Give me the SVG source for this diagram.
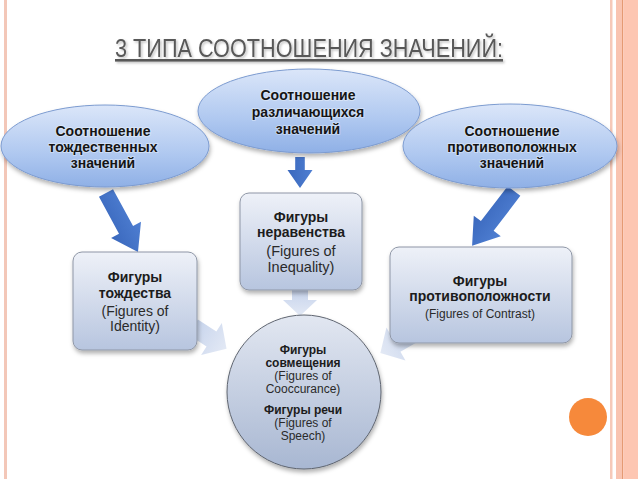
<svg xmlns="http://www.w3.org/2000/svg" width="638" height="479" viewBox="0 0 638 479">
<defs>
<linearGradient id="gEll" x1="0" y1="0" x2="0" y2="1">
<stop offset="0" stop-color="#dbe6f9"/>
<stop offset="0.6" stop-color="#afc8f0"/>
<stop offset="1" stop-color="#8fb0e6"/>
</linearGradient>
<linearGradient id="gBox" x1="0" y1="0" x2="0" y2="1">
<stop offset="0" stop-color="#eef1f8"/>
<stop offset="1" stop-color="#b7c5df"/>
</linearGradient>
<linearGradient id="gCirc" x1="0" y1="0" x2="0" y2="1">
<stop offset="0" stop-color="#e2e7f1"/>
<stop offset="1" stop-color="#a8b7d2"/>
</linearGradient>
<linearGradient id="gBlue" x1="0" y1="0" x2="0" y2="1">
<stop offset="0" stop-color="#4f7fd2"/>
<stop offset="1" stop-color="#3a68bd"/>
</linearGradient>
<linearGradient id="gPale" x1="0" y1="0" x2="1" y2="0">
<stop offset="0" stop-color="#c7d4ec"/>
<stop offset="1" stop-color="#e3e9f5"/>
</linearGradient>
<filter id="sh" x="-20%" y="-20%" width="140%" height="150%">
<feDropShadow dx="1" dy="3" stdDeviation="2" flood-color="#000" flood-opacity="0.3"/>
</filter>
<filter id="titsh" x="-5%" y="-20%" width="110%" height="150%">
<feDropShadow dx="1.5" dy="1.5" stdDeviation="0.8" flood-color="#000" flood-opacity="0.25"/>
</filter>
</defs>
<style>
.ell{fill:url(#gEll);stroke:#7c9bd0;stroke-width:1;filter:url(#sh)}
.box{fill:url(#gBox);stroke:#8e96a6;stroke-width:1;filter:url(#sh)}
.circ{fill:url(#gCirc);stroke:#5f6570;stroke-width:1;filter:url(#sh)}
.et{font-family:"Liberation Sans",Arial,sans-serif;font-weight:bold;font-size:14px;fill:#151515;text-anchor:middle;stroke:#ffffff;stroke-opacity:0.35;stroke-width:2px;paint-order:stroke;stroke-linejoin:round}
.b{font-family:"Liberation Sans",Arial,sans-serif;font-weight:bold;fill:#1c1c1c;text-anchor:middle}
.n{font-family:"Liberation Sans",Arial,sans-serif;fill:#2a2a2a;text-anchor:middle}
.blue{fill:url(#gBlue)}
.pale{fill:url(#gPale)}
</style>
<rect x="0" y="0" width="638" height="479" fill="#ffffff"/>
<g id="frame">
<rect x="4" y="0" width="3" height="479" fill="#f3c7b8"/>
<rect x="610" y="0" width="2.5" height="479" fill="#f6c9b9"/>
<rect x="616" y="0" width="6" height="479" fill="#f9c4b1"/>
<rect x="622" y="0" width="1.2" height="479" fill="#e59a73"/>
<rect x="623.2" y="0" width="14.8" height="479" fill="#fdc6b2"/>
</g>
<g id="title">
<text x="309" y="57" font-family="'Liberation Sans',Arial,sans-serif" font-size="26" fill="#595959" filter="url(#titsh)" textLength="388" lengthAdjust="spacingAndGlyphs" text-decoration="underline" text-anchor="middle">3 ТИПА СООТНОШЕНИЯ ЗНАЧЕНИЙ:</text>
</g>
<g id="connectors">
<path class="pale" d="M0,-8 L10,-8 L10,-17 L26,0 L10,17 L10,8 L0,8 Z" transform="translate(300,290) rotate(90)"/>
<path class="pale" d="M0,-9 L22,-9 L22,-19 L40,0 L22,19 L22,9 L0,9 Z" transform="translate(193,327) rotate(33)"/>
<path class="pale" d="M0,-9 L22,-9 L22,-19 L40,0 L22,19 L22,9 L0,9 Z" transform="translate(415,333) rotate(150)"/>
<path class="blue" d="M0,-8 L42,-8 L42,-17 L67,0 L42,17 L42,8 L0,8 Z" transform="translate(106,193) rotate(61.5)"/>
<path class="blue" d="M0,-4.8 L13,-4.8 L13,-12.5 L31,0 L13,12.5 L13,4.8 L0,4.8 Z" transform="translate(300,157) rotate(90)"/>
<path class="blue" d="M0,-8 L44,-8 L44,-17 L69,0 L44,17 L44,8 L0,8 Z" transform="translate(514,191) rotate(127.4)"/>
</g>
<g id="ell-left">
<ellipse class="ell" cx="105" cy="146" rx="104" ry="41"/>
<text class="et" x="103" y="136">Соотношение</text>
<text class="et" x="103" y="152">тождественных</text>
<text class="et" x="103" y="168">значений</text>
</g>
<g id="ell-mid">
<ellipse class="ell" cx="309" cy="111" rx="111" ry="42"/>
<text class="et" x="308" y="100">Соотношение</text>
<text class="et" x="308" y="117">различающихся</text>
<text class="et" x="308" y="134">значений</text>
</g>
<g id="ell-right">
<ellipse class="ell" cx="510" cy="146" rx="107" ry="42"/>
<text class="et" x="512" y="136">Соотношение</text>
<text class="et" x="512" y="152">противоположных</text>
<text class="et" x="512" y="168">значений</text>
</g>
<g id="box-left">
<rect class="box" x="73" y="252" width="124" height="98" rx="9"/>
<text class="b" x="135" y="282" font-size="14">Фигуры</text>
<text class="b" x="135" y="298" font-size="14">тождества</text>
<text class="n" x="135" y="316" font-size="14">(Figures of</text>
<text class="n" x="135" y="331" font-size="14">Identity)</text>
</g>
<g id="box-mid">
<rect class="box" x="240" y="193" width="122" height="97" rx="9"/>
<text class="b" x="301" y="222" font-size="14">Фигуры</text>
<text class="b" x="301" y="237" font-size="14">неравенства</text>
<text class="n" x="301" y="256" font-size="14.5">(Figures of</text>
<text class="n" x="301" y="272" font-size="14.5">Inequality)</text>
</g>
<g id="box-right">
<rect class="box" x="390" y="247" width="182" height="96" rx="9"/>
<text class="b" x="480" y="286" font-size="14">Фигуры</text>
<text class="b" x="480" y="301" font-size="14">противоположности</text>
<text class="n" x="480" y="318" font-size="12">(Figures of Contrast)</text>
</g>
<g id="circle-center">
<circle class="circ" cx="304" cy="392" r="77"/>
<text class="b" x="303" y="354" font-size="12">Фигуры</text>
<text class="b" x="303" y="367" font-size="12">совмещения</text>
<text class="n" x="303" y="380" font-size="12">(Figures of</text>
<text class="n" x="303" y="393" font-size="12">Cooccurance)</text>
<text class="b" x="303" y="414" font-size="12">Фигуры речи</text>
<text class="n" x="303" y="427" font-size="12">(Figures of</text>
<text class="n" x="303" y="440" font-size="12">Speech)</text>
</g>
<g id="dot">
<circle cx="588" cy="417" r="19" fill="#f6893b"/>
</g>
</svg>
